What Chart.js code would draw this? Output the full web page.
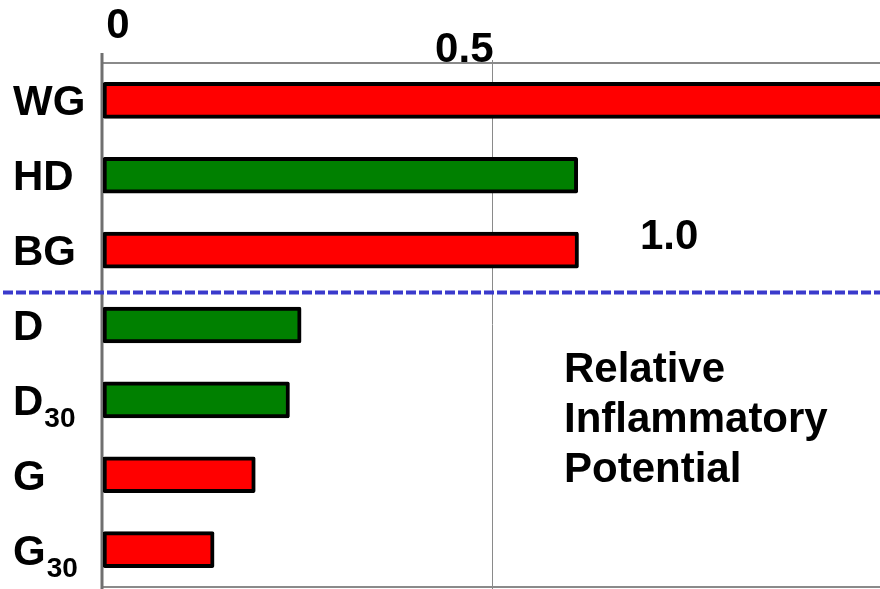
<!DOCTYPE html>
<html>
<head>
    <style>
        body { margin: 0; background: #fff; }
        #wrap { width: 880px; height: 589px; }
    </style>
    <script src="https://cdn.jsdelivr.net/npm/chart.js"></script>
</head>
<body>
    <div id="wrap"><canvas id="myChart" width="880" height="589"></canvas></div>
    <script>
        // categories, top to bottom; subscripts drawn small after the name
        const categories = ['WG', 'HD', 'BG', 'D', 'D', 'G', 'G'];
        const subscripts = ['', '', '', '', '30', '', '30'];
        const values = [1.0, 0.611, 0.612, 0.255, 0.24, 0.196, 0.143];
        const barColors = ['#ff0000', '#008000', '#ff0000', '#008000', '#008000', '#ff0000', '#ff0000'];
        const xTicks = [0, 0.5, 1.0];
        const xTickText = ['0', '0.5', '1.0'];
        const xMax = 1.0;
        const noteLines = ['Relative', 'Inflammatory', 'Potential'];

        const FONT = 'bold 42px "Liberation Sans", Arial, sans-serif';
        const SUBFONT = 'bold 28px "Liberation Sans", Arial, sans-serif';

        const decor = {
            id: 'decor',
            beforeDatasetsDraw(chart) {
                const ctx = chart.ctx;
                const x = chart.scales.x, y = chart.scales.y;
                const a = chart.chartArea;
                ctx.save();
                // gridline at 0.5
                ctx.strokeStyle = '#8a8a8a';
                ctx.lineWidth = 1;
                ctx.beginPath();
                ctx.moveTo(Math.round(x.getPixelForValue(xTicks[1])) + 0.5, 60);
                ctx.lineTo(Math.round(x.getPixelForValue(xTicks[1])) + 0.5, 589);
                ctx.stroke();
                // top and bottom frame
                ctx.lineWidth = 2;
                ctx.strokeStyle = '#8a8a8a';
                ctx.beginPath();
                ctx.moveTo(a.left, a.top);
                ctx.lineTo(a.right, a.top);
                ctx.moveTo(a.left, a.bottom);
                ctx.lineTo(a.right, a.bottom);
                ctx.stroke();
                // left axis
                ctx.lineWidth = 3;
                ctx.strokeStyle = '#707070';
                ctx.beginPath();
                ctx.moveTo(x.getPixelForValue(0) - 1, 53);
                ctx.lineTo(x.getPixelForValue(0) - 1, 589);
                ctx.stroke();
                ctx.restore();
            },
            afterDatasetsDraw(chart) {
                const ctx = chart.ctx;
                const x = chart.scales.x, y = chart.scales.y;
                ctx.save();
                // dashed separator between BG and D
                const yd = (y.getPixelForValue(2) + y.getPixelForValue(3)) / 2 + 5;
                ctx.strokeStyle = '#3a3acc';
                ctx.lineWidth = 4;
                ctx.setLineDash([10, 3]);
                ctx.beginPath();
                ctx.moveTo(3, yd);
                ctx.lineTo(880, yd);
                ctx.stroke();
                ctx.setLineDash([]);

                ctx.fillStyle = '#000';
                ctx.textBaseline = 'alphabetic';
                // category labels
                categories.forEach((c, i) => {
                    const yb = y.getPixelForValue(i) + 15;
                    ctx.font = FONT;
                    ctx.textAlign = 'left';
                    ctx.fillText(c, 13, yb);
                    if (subscripts[i]) {
                        const w = ctx.measureText(c).width;
                        ctx.font = SUBFONT;
                        ctx.fillText(subscripts[i], 13 + w + 1, yb + 12);
                    }
                });
                // tick labels (placed as in the original slide)
                ctx.font = FONT;
                ctx.textAlign = 'center';
                ctx.fillText(xTickText[0], x.getPixelForValue(xTicks[0]) + 15, 38);
                ctx.textAlign = 'right';
                ctx.fillText(xTickText[1], x.getPixelForValue(xTicks[1]) + 2, 62);
                ctx.textAlign = 'left';
                ctx.fillText(xTickText[2], 640, 249);
                // note
                noteLines.forEach((t, i) => ctx.fillText(t, 564, 382 + i * 50));
                ctx.restore();
            }
        };

        new Chart(document.getElementById('myChart'), {
            type: 'bar',
            data: {
                labels: categories.map((c, i) => c + subscripts[i]),
                datasets: [{
                    data: values,
                    backgroundColor: barColors,
                    borderColor: '#000',
                    borderWidth: 4,
                    borderRadius: 2,
                    borderSkipped: c => c.raw >= xMax ? 'end' : false,
                    barThickness: 36
                }]
            },
            options: {
                indexAxis: 'y',
                responsive: false,
                animation: false,
                layout: { padding: { left: 103, top: 63, right: 0, bottom: 2 } },
                plugins: { legend: { display: false }, tooltip: { enabled: false } },
                scales: {
                    x: { display: false, min: 0, max: xMax },
                    y: { display: false }
                }
            },
            plugins: [decor]
        });
    </script>
</body>
</html>
